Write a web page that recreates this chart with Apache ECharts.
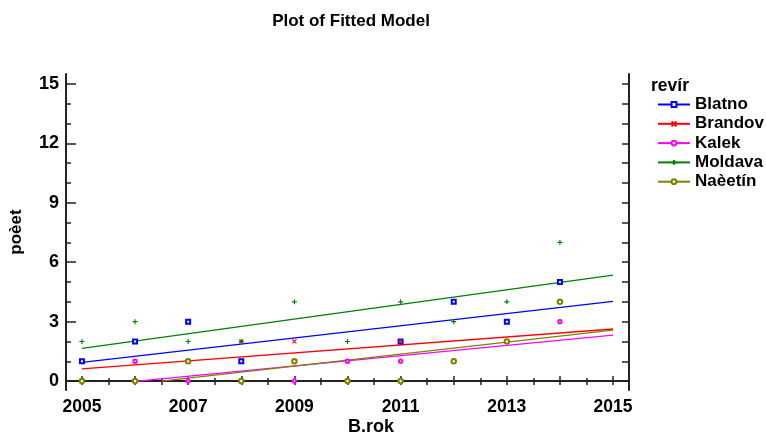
<!DOCTYPE html>
<html>
<head>
<meta charset="utf-8">
<script src="https://cdn.jsdelivr.net/npm/echarts@6/dist/echarts.min.js"></script>
<style>html,body{margin:0;padding:0;background:#fff}#c{width:766px;height:437px}</style>
</head>
<body>
<div id="c"></div>
<script>
// ---- data ----
var years = [2005, 2006, 2007, 2008, 2009, 2010, 2011, 2012, 2013, 2014];
var blatno  = [1, 2, 3, 1, null, null, 2, 4, 3, 5];
var brandov = [0, 1, 1, 2, 2, 1, 2, 1, 2, 3];
var kalek   = [0, 1, 0, 0, 0, 1, 1, 1, 2, 3];
var moldava = [2, 3, 2, 2, 4, 2, 4, 3, 4, 7];
var nacetin = [0, 0, 1, 0, 1, 0, 0, 1, 2, 4];

var fitBlatno  = [[2005, 0.94], [2015, 4.02]];
var fitBrandov = [[2005, 0.62], [2015, 2.63]];
var fitKalek   = [[2006.05, 0], [2015, 2.32]];
var fitMoldava = [[2005, 1.65], [2015, 5.35]];
var fitNacetin = [[2006.5, 0], [2015, 2.57]];

var xLabels = [2005, 2007, 2009, 2011, 2013, 2015];
var xMajorTicks = [2005, 2006, 2007, 2008, 2009, 2010, 2011, 2012, 2013, 2014, 2015];
var xMinorTicks = [2005.5, 2006.5, 2007.5, 2008.5, 2009.5, 2010.5, 2011.5, 2012.5, 2013.5, 2014.5];
var yLabels = [0, 3, 6, 9, 12, 15];
var yMinorTicks = [1, 2, 4, 5, 7, 8, 10, 11, 13, 14];
var yAllTicks = [0, 1, 2, 3, 4, 5, 6, 7, 8, 9, 10, 11, 12, 13, 14, 15];

var names = ['Blatno', 'Brandov', 'Kalek', 'Moldava', 'Naèetín'];
var colors = ['#0000ff', '#ff0000', '#ff00ff', '#008000', '#808000'];
var points = [blatno, brandov, kalek, moldava, nacetin];
var fits = [fitBlatno, fitBrandov, fitKalek, fitMoldava, fitNacetin];

var XPATH = 'path://M0,0L10,10M10,0L0,10';
var PLUS = 'path://M5,0L5,10M0,5L10,5';
var symbols = ['emptyRect', XPATH, 'emptyCircle', PLUS, 'emptyCircle'];
var symSizes = [4, 4, 3.5, 5, 4.5];

var FONT = '"Liberation Sans", Arial, sans-serif';
var XMIN = 2004.7, XMAX = 2015.3, YMIN = -0.45, YMAX = 15.5;
var AXC = '#222';

function pairs(arr) {
  var out = [];
  for (var i = 0; i < years.length; i++) {
    if (arr[i] !== null) out.push([years[i], arr[i]]);
  }
  return out;
}

var series = [];
for (var i = 0; i < names.length; i++) {
  series.push({
    type: 'line', name: names[i], data: fits[i],
    symbol: symbols[i], symbolSize: symSizes[i], showSymbol: false,
    lineStyle: { color: colors[i], width: 1.3 },
    itemStyle: { color: colors[i], borderColor: colors[i], borderWidth: 1.2 },
    silent: true, z: 2
  });
}
for (var j = 0; j < names.length; j++) {
  series.push({
    type: 'scatter', name: names[j], data: pairs(points[j]),
    symbol: symbols[j], symbolSize: symSizes[j],
    itemStyle: { color: (j === 1 || j === 3) ? 'none' : colors[j], borderColor: colors[j], borderWidth: (j === 4 ? 1.5 : 1.1), opacity: 1 },
    z: 3 + j
  });
}

var baseX = { type: 'value', min: XMIN, max: XMAX, splitLine: { show: false }, gridIndex: 0 };
var baseY = { type: 'value', min: YMIN, max: YMAX, splitLine: { show: false }, gridIndex: 0 };

var option = {
  animation: false,
  backgroundColor: '#fff',
  textStyle: { fontFamily: FONT },
  title: [
    { text: 'Plot of Fitted Model', left: 346, top: 8, textAlign: 'center',
      textStyle: { fontFamily: FONT, fontSize: 17, fontWeight: 'bold', color: '#000' } },
    { text: 'revír', left: 646, top: 72,
      textStyle: { fontFamily: FONT, fontSize: 17.5, fontWeight: 'bold', color: '#000' } },
    { text: 'B.rok', left: 366, top: 413, textAlign: 'center',
      textStyle: { fontFamily: FONT, fontSize: 18, fontWeight: 'bold', color: '#000' } }
  ],
  legend: {
    data: names, orient: 'vertical', left: 652, top: 91,
    itemWidth: 32, itemHeight: 6, itemGap: 2.3,
    textStyle: { fontFamily: FONT, fontSize: 17, fontWeight: 'bold', color: '#000' },
    selectedMode: false
  },
  grid: { left: 64, right: 137, top: 74, bottom: 47, containLabel: false },
  xAxis: [
    Object.assign({}, baseX, {
      position: 'bottom',
      axisLine: { show: true, lineStyle: { color: AXC, width: 2 } },
      axisTick: { show: true, inside: true, length: 5, customValues: xMajorTicks, lineStyle: { color: AXC, width: 1.5 } },
      axisLabel: { show: true, customValues: xLabels, margin: 8, fontFamily: FONT, fontSize: 17.5, fontWeight: 'bold', color: '#000',
        formatter: function (v) { return String(v); } }
    }),
    Object.assign({}, baseX, {
      position: 'bottom',
      axisLine: { show: false },
      axisTick: { show: true, inside: true, length: 3, customValues: xMinorTicks, lineStyle: { color: AXC, width: 1.5 } },
      axisLabel: { show: false }
    }),
    Object.assign({}, baseX, {
      position: 'top',
      axisLine: { show: true, lineStyle: { color: AXC, width: 2 } },
      axisTick: { show: true, inside: true, length: 4, customValues: xMajorTicks.concat(xMinorTicks), lineStyle: { color: AXC, width: 1.5 } },
      axisLabel: { show: false }
    })
  ],
  yAxis: [
    Object.assign({}, baseY, {
      position: 'left',
      name: 'poèet', nameLocation: 'middle', nameRotate: 90, nameGap: 41,
      nameTextStyle: { fontFamily: FONT, fontSize: 17, fontWeight: 'bold', color: '#000' },
      axisLine: { show: true, lineStyle: { color: AXC, width: 2 } },
      axisTick: { show: true, inside: true, length: 10, customValues: yLabels, lineStyle: { color: AXC, width: 1.5 } },
      axisLabel: { show: true, customValues: yLabels, margin: 7, fontFamily: FONT, fontSize: 18, fontWeight: 'bold', color: '#000' }
    }),
    Object.assign({}, baseY, {
      position: 'left',
      axisLine: { show: false },
      axisTick: { show: true, inside: true, length: 5, customValues: yMinorTicks, lineStyle: { color: AXC, width: 1.5 } },
      axisLabel: { show: false }
    }),
    Object.assign({}, baseY, {
      position: 'right',
      axisLine: { show: true, lineStyle: { color: AXC, width: 2 } },
      axisTick: { show: true, inside: true, length: 7, customValues: yAllTicks, lineStyle: { color: AXC, width: 1.5 } },
      axisLabel: { show: false }
    })
  ],
  series: series
};

var chart = echarts.init(document.getElementById('c'), null, { renderer: 'canvas' });
chart.setOption(option);
</script>
</body>
</html>
